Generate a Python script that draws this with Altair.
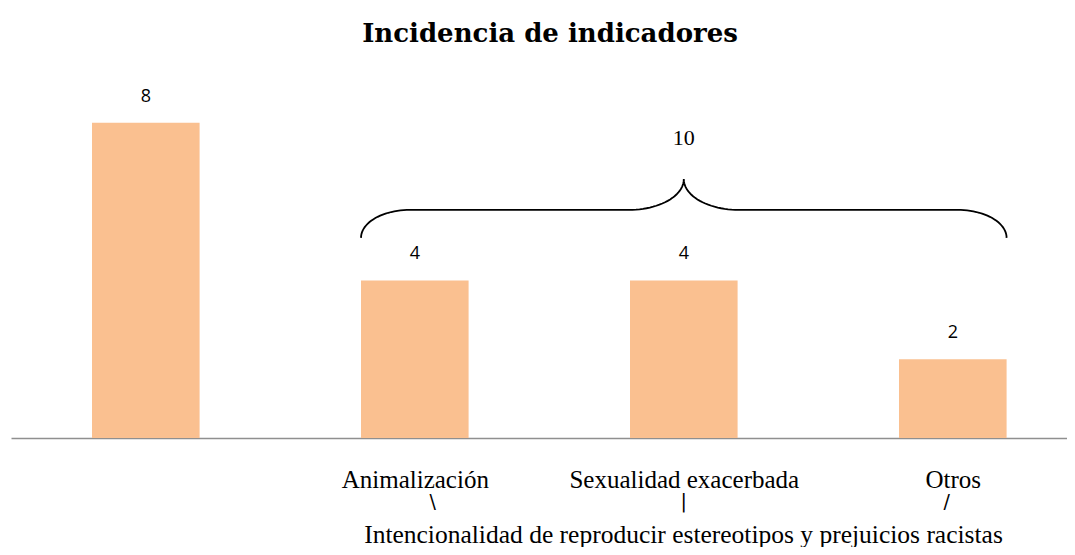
import json
import altair as alt
import numpy as np
import pandas as pd

# ---------------- data ----------------
chart_title = "Incidencia de indicadores"
categories = ["", "Animalización", "Sexualidad exacerbada", "Otros"]
values = [8, 4, 4, 2]
group_members = ["Animalización", "Sexualidad exacerbada", "Otros"]
group_caption = "Intencionalidad de reproducir estereotipos y prejuicios racistas"
connector_glyphs = ["\\", "|", "/"]

# ---------------- layout ----------------
W, H = 1056, 388
STEP = 269.0            # px between category centres
LEFT_CENTER = 134.8     # px of first category centre
PX_PER_UNIT = 39.4
BAR_HALF = 0.2
x_domain = [-LEFT_CENTER / STEP, (W - LEFT_CENTER) / STEP]
y_domain = [0, H / PX_PER_UNIT]

SERIF = "Liberation Serif"
TITLE_FONT = "DejaVu Serif"
SANS = "Open Sans"

bars = pd.DataFrame({"cat": categories, "value": values})
bars["idx"] = range(len(categories))
bars["x0"] = bars["idx"] - BAR_HALF
bars["x1"] = bars["idx"] + BAR_HALF

label_expr = json.dumps(categories) + "[datum.value]"

xscale = alt.Scale(domain=x_domain, nice=False, zero=False)
yscale = alt.Scale(domain=y_domain, nice=False, zero=True)
xaxis = alt.Axis(
    values=list(range(len(categories))), labelExpr=label_expr,
    title=group_caption, grid=False, ticks=False, tickSize=0,
    domainColor="#8f8f8f", domainWidth=1.5,
    labelFont=SERIF, labelFontSize=25, labelColor="black",
    labelBaseline="alphabetic", labelPadding=49, labelFlush=False,
    labelOverlap=False, labelBound=False, labelLimit=0,
    titleFont=SERIF, titleFontSize=25.5, titleFontWeight="normal",
    titleColor="black", titleX=672, titleY=104, titleBaseline="alphabetic",
    titleAlign="center", titleLimit=0,
)

bar_layer = alt.Chart(bars).mark_bar(color="#FAC090").encode(
    x=alt.X("x0:Q", scale=xscale, axis=xaxis),
    x2="x1:Q",
    y=alt.Y("value:Q", scale=yscale, axis=None),
    y2=alt.datum(0),
)

value_layer = alt.Chart(bars).mark_text(
    font=SANS, fontSize=18, color="black", baseline="middle", dy=-26
).encode(
    x=alt.X("idx:Q", scale=xscale, axis=xaxis),
    y=alt.Y("value:Q", scale=yscale, axis=None),
    text="value:Q",
)

# ---------------- brace over the group ----------------
member_idx = [categories.index(m) for m in group_members]
member_vals = [values[i] for i in member_idx]
x_left = min(member_idx) - BAR_HALF
x_right = max(member_idx) + BAR_HALF
x_mid = (x_left + x_right) / 2
yb = max(member_vals) + 1.08
yh = yb + 0.71
yp = yh + 0.78
rx1 = 49 / STEP
rx2 = 55 / STEP
t = np.linspace(0, np.pi / 2, 25)

pts = []
pts += list(zip(x_left + rx1 - rx1 * np.cos(t), yb + (yh - yb) * np.sin(t)))
pts += list(zip(x_mid - rx2 + rx2 * np.sin(t), yp - (yp - yh) * np.cos(t)))
pts += list(zip(x_mid + rx2 - rx2 * np.sin(t[::-1]), yp - (yp - yh) * np.cos(t[::-1])))
pts += list(zip(x_right - rx1 + rx1 * np.cos(t[::-1]), yb + (yh - yb) * np.sin(t[::-1])))
brace = pd.DataFrame(pts, columns=["bx", "by"])
brace["order"] = range(len(brace))

brace_layer = alt.Chart(brace).mark_line(color="black", strokeWidth=1.8).encode(
    x=alt.X("bx:Q", scale=xscale, axis=xaxis),
    y=alt.Y("by:Q", scale=yscale, axis=None),
    order="order:Q",
)

total = pd.DataFrame({"bx": [x_mid], "by": [yp], "total": [sum(member_vals)]})
total_layer = alt.Chart(total).mark_text(
    font=SERIF, fontSize=22, color="black", baseline="middle", dy=-41
).encode(
    x=alt.X("bx:Q", scale=xscale, axis=xaxis),
    y=alt.Y("by:Q", scale=yscale, axis=None),
    text="total:Q",
)

# ---------------- connector glyphs under the labels ----------------
glyph_dx = [18, 0, -6]
glyph_layers = []
for g, i, dx in zip(connector_glyphs, member_idx, glyph_dx):
    d = pd.DataFrame({"gx": [i], "glyph": [g]})
    glyph_layers.append(
        alt.Chart(d).mark_text(
            font="DejaVu Sans", fontSize=19, color="black", baseline="middle", dx=dx
        ).encode(
            x=alt.X("gx:Q", scale=xscale, axis=xaxis),
            y=alt.value(452),
            text="glyph:N",
        )
    )

chart = alt.layer(bar_layer, value_layer, brace_layer, total_layer, *glyph_layers).properties(
    width=W,
    height=H,
    autosize=alt.AutoSizeParams(type="none"),
    padding={"left": 3, "top": 42, "right": 0, "bottom": 109},
    title=alt.Title(
        chart_title, font=TITLE_FONT, fontSize=26, fontWeight="bold", color="black",
        anchor="middle", baseline="alphabetic", offset=8, dx=11, dy=26,
    ),
).configure_view(stroke=None)

chart.save("out.html", embed_options={"renderer": "svg", "actions": False})
